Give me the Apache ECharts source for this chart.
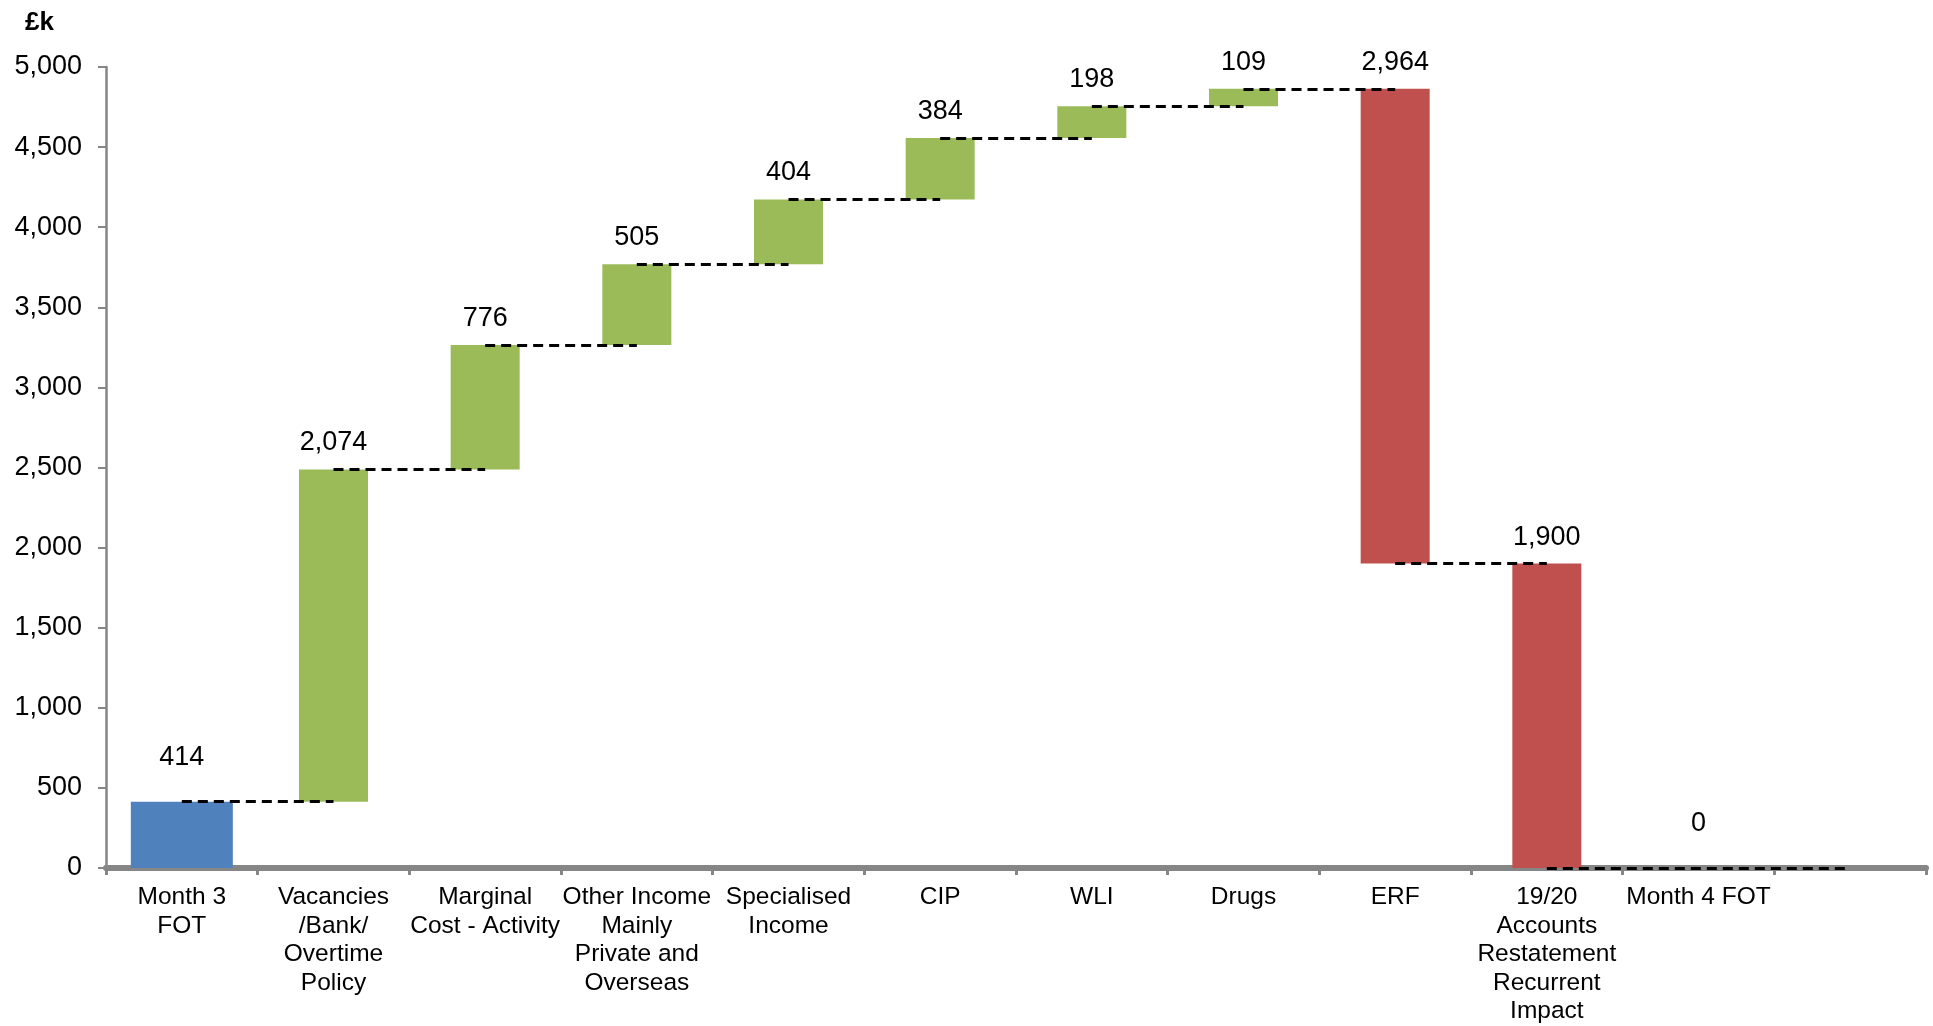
<!DOCTYPE html>
<html>
<head>
<meta charset="utf-8">
<script src="https://cdn.jsdelivr.net/npm/echarts@6/dist/echarts.min.js"></script>
<style>
  html, body { margin: 0; padding: 0; background: #fff; }
  #chart { width: 1933px; height: 1026px; }
</style>
</head>
<body>
<div id="chart"></div>
<script>
// categories on the x axis (last one is an empty slot)
const categories = [
  'Month 3\nFOT',
  'Vacancies\n/Bank/\nOvertime\nPolicy',
  'Marginal\nCost - Activity',
  'Other Income\nMainly\nPrivate and\nOverseas',
  'Specialised\nIncome',
  'CIP',
  'WLI',
  'Drugs',
  'ERF',
  '19/20\nAccounts\nRestatement\nRecurrent\nImpact',
  'Month 4 FOT',
  ''
];
// totals (start / end) and movements, £k
const totals = [414, null, null, null, null, null, null, null, null, null, 0, null];
const changes = [null, 2074, 776, 505, 404, 384, 198, 109, -2964, -1900, null, null];
// y axis ticks
const yMin = 0, yMax = 5000, yStep = 500;

const FONT = "'Liberation Sans', Arial, sans-serif";
const fmt = v => Number(v).toLocaleString('en-US');

// build stacked waterfall pieces
let level = 0;
const base = [], delta = [], levels = [], totalData = [];
for (let i = 0; i < categories.length; i++) {
  if (totals[i] != null) {
    level = totals[i];
    base.push('-'); delta.push('-');
    totalData.push(totals[i]);
    levels.push(level);
  } else if (changes[i] != null) {
    const before = level, after = level + changes[i];
    base.push(Math.min(before, after));
    delta.push({
      value: Math.abs(changes[i]),
      itemStyle: { color: changes[i] > 0 ? '#9BBB59' : '#C0504D' }
    });
    totalData.push('-');
    level = after;
    levels.push(level);
  } else {
    base.push('-'); delta.push('-'); totalData.push('-');
    levels.push(null);
  }
}

// dashed connectors between consecutive categories, merged when level is unchanged
const segs = [];
for (let i = 0; i < categories.length - 1; i++) {
  if (levels[i] == null) continue;
  const last = segs[segs.length - 1];
  if (last && last.to === i && last.y === levels[i]) { last.to = i + 1; }
  else segs.push({ from: i, to: i + 1, y: levels[i] });
}
const connectorData = segs.map(s => [{ coord: [s.from, s.y] }, { coord: [s.to, s.y] }]);

const chart = echarts.init(document.getElementById('chart'));
chart.setOption({
  animation: false,
  backgroundColor: '#fff',
  textStyle: { fontFamily: FONT },
  title: {
    text: '£k', left: 20, top: 5,
    textStyle: { fontFamily: FONT, fontSize: 26, fontWeight: 'bold', color: '#000' }
  },
  grid: { left: 106, right: 7, top: 67, bottom: 158 },
  xAxis: [
    {
      type: 'category',
      data: categories,
      axisLine: { lineStyle: { color: '#868686', width: 6 } },
      axisTick: { show: true, length: 7, lineStyle: { color: '#868686', width: 3 } },
      axisLabel: {
        interval: 0, margin: 15, color: '#000',
        fontFamily: FONT, fontSize: 24.5, lineHeight: 28.5
      },
      splitLine: { show: false }
    },
    { type: 'category', data: categories, show: false }
  ],
  yAxis: {
    type: 'value',
    min: yMin, max: yMax, interval: yStep,
    axisLine: { show: true, lineStyle: { color: '#868686', width: 2.5 } },
    axisTick: { show: true, length: 8, lineStyle: { color: '#868686', width: 2 } },
    axisLabel: { margin: 24, color: '#000', fontFamily: FONT, fontSize: 27, formatter: fmt },
    splitLine: { show: false }
  },
  series: [
    {
      name: 'base', type: 'bar', stack: 'w', xAxisIndex: 0,
      barWidth: 69, data: base, silent: true,
      itemStyle: { color: 'rgba(0,0,0,0)' }
    },
    {
      name: 'change', type: 'bar', stack: 'w', xAxisIndex: 0,
      barWidth: 69, data: delta,
      label: {
        show: true, position: 'top', distance: 13, color: '#000',
        fontFamily: FONT, fontSize: 27,
        formatter: p => fmt(p.value)
      },
      markLine: {
        silent: true, symbol: ['none', 'none'],
        label: { show: false },
        lineStyle: { color: '#000', type: [10, 6], width: 3 },
        data: connectorData
      }
    },
    {
      name: 'total', type: 'bar', xAxisIndex: 1,
      barWidth: 102, data: totalData,
      itemStyle: { color: '#4F81BD' },
      label: {
        show: true, position: 'top', distance: 31, color: '#000',
        fontFamily: FONT, fontSize: 27,
        formatter: p => fmt(p.value)
      }
    }
  ]
});
</script>
</body>
</html>
